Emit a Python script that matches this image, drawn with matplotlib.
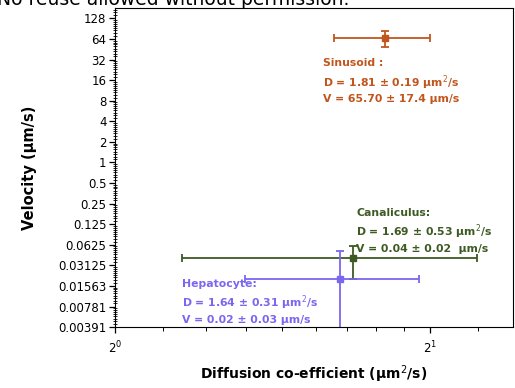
import numpy as np
import matplotlib.pyplot as plt
from matplotlib.ticker import FixedLocator, LogLocator, NullFormatter, FixedFormatter

plt.rcParams['font.family'] = ['DejaVu Sans']

# measured diffusion coefficients and velocities (mean, sd)
groups = ['Sinusoid', 'Canaliculus', 'Hepatocyte']
D_mean = [1.81, 1.69, 1.64]
D_sd = [0.19, 0.53, 0.31]
V_mean = [65.70, 0.04, 0.02]
V_sd = [17.4, 0.02, 0.03]
colors = ['#c0561e', '#3d5a22', '#7b66f0']

ytick_vals = [2.0 ** k for k in range(7, -9, -1)]
ytick_labels = ['128', '64', '32', '16', '8', '4', '2', '1', '0.5', '0.25',
                '0.125', '0.0625', '0.03125', '0.01563', '0.00781', '0.00391']

fig = plt.figure(figsize=(5.15, 3.88), dpi=100)
ax = fig.add_axes([0.223, 0.157, 0.773, 0.822])

for d, dsd, v, vsd, c in zip(D_mean, D_sd, V_mean, V_sd, colors):
    ax.errorbar(d, v, xerr=dsd, yerr=vsd, fmt='s', color=c, ms=5,
                elinewidth=1.3, capsize=3, capthick=1.3)

ax.set_xscale('log', base=2)
ax.set_yscale('log', base=2)
ax.set_xlim(1.0, 2.40)
ax.set_ylim(2.0 ** -8, 2.0 ** 7.5)

subs = [1 + k / 9 for k in range(1, 9)]
ax.xaxis.set_major_locator(FixedLocator([1, 2]))
ax.xaxis.set_major_formatter(FixedFormatter(['$2^0$', '$2^1$']))
ax.xaxis.set_minor_locator(LogLocator(base=2, subs=subs, numticks=20))
ax.xaxis.set_minor_formatter(NullFormatter())
ax.yaxis.set_major_locator(FixedLocator(ytick_vals))
ax.yaxis.set_major_formatter(FixedFormatter(ytick_labels))
ax.yaxis.set_minor_locator(LogLocator(base=2, subs=subs, numticks=40))
ax.yaxis.set_minor_formatter(NullFormatter())

ax.tick_params(axis='both', which='major', direction='out', length=4, labelsize=8.5, width=0.9, pad=2)
ax.tick_params(axis='y', which='minor', direction='inout', length=3, width=0.6)
ax.tick_params(axis='x', which='minor', direction='out', length=3, width=0.7)
ax.tick_params(axis='x', which='major', pad=5)

ax.set_xlabel('Diffusion co-efficient (µm$^2$/s)', fontsize=10, fontweight='bold', labelpad=5)
ax.set_ylabel('Velocity (µm/s)', fontsize=10.5, fontweight='bold', labelpad=15)

ax.text(1.58, 15.4, 'Sinusoid :\nD = 1.81 ± 0.19 µm$^2$/s\nV = 65.70 ± 17.4 µm/s',
        color=colors[0], fontsize=7.8, fontweight='bold', va='center', linespacing=1.36)
ax.text(1.70, 0.1, 'Canaliculus:\nD = 1.69 ± 0.53 µm$^2$/s\nV = 0.04 ± 0.02  µm/s',
        color=colors[1], fontsize=7.8, fontweight='bold', va='center', linespacing=1.36)
ax.text(1.16, 0.0092, 'Hepatocyte:\nD = 1.64 ± 0.31 µm$^2$/s\nV = 0.02 ± 0.03 µm/s',
        color=colors[2], fontsize=7.8, fontweight='bold', va='center', linespacing=1.36)

fig.text(-0.005, 0.988, 'No reuse allowed without permission.', fontsize=13.5, va='baseline')

fig.savefig('out.png', dpi=100)
